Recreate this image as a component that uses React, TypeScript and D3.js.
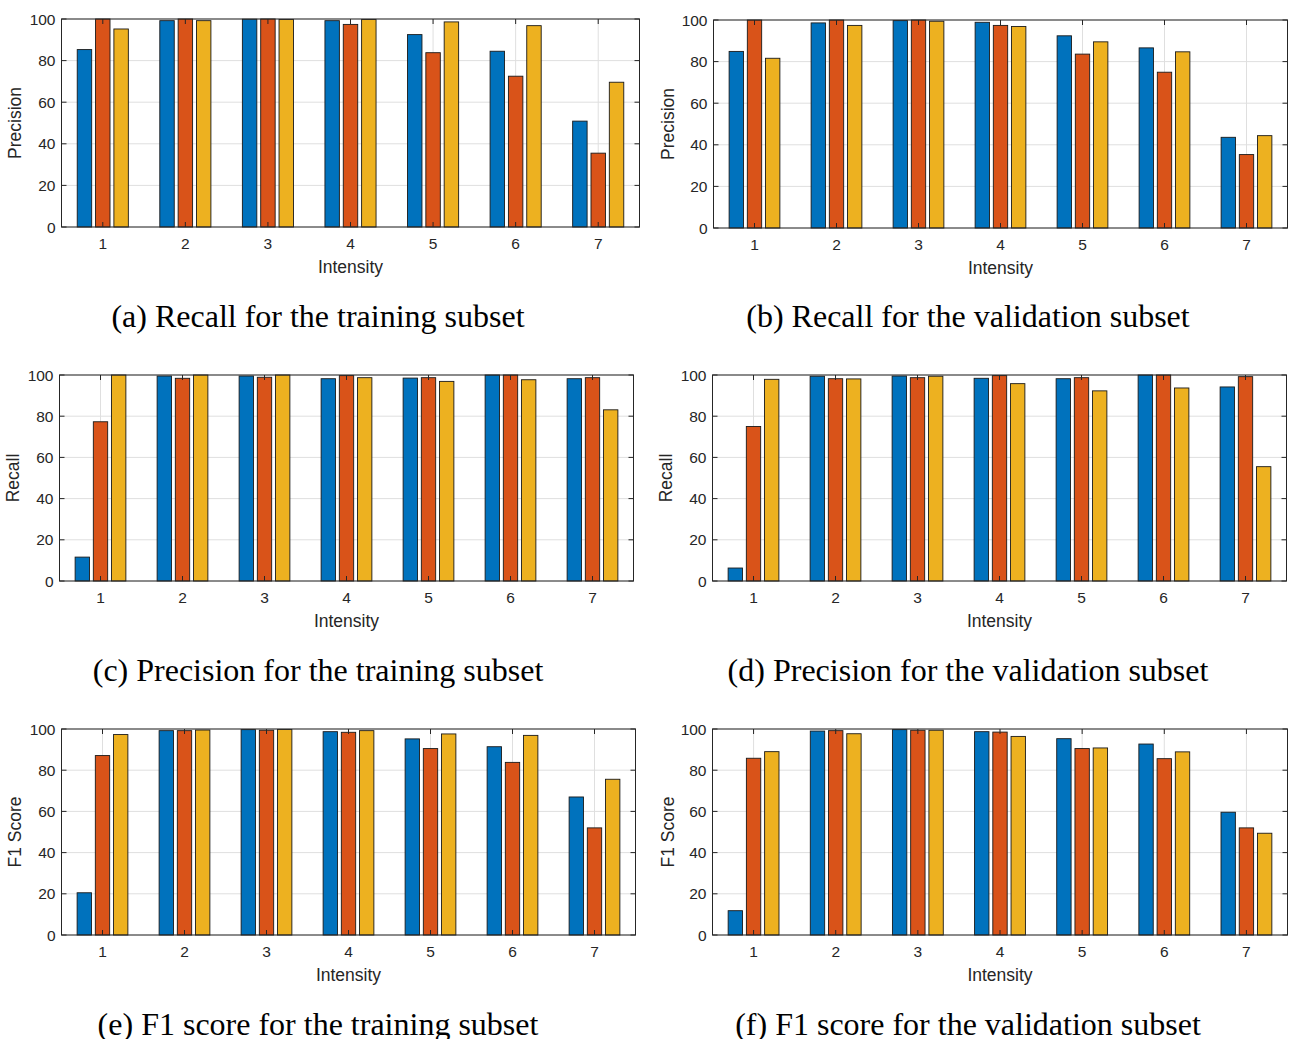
import React from "react";
import * as d3 from "d3";

// Intensity classes on the x axis
const categories = ["1", "2", "3", "4", "5", "6", "7"];
const yTicks = [0, 20, 40, 60, 80, 100];
const seriesColors = ["#0072BD", "#D95319", "#EDB120"];

// Three series per panel, one value per intensity class
const recallTrain = [
  [85.3, 99.2, 99.9, 99.2, 92.5, 84.5, 50.9],
  [100, 100, 100, 97.4, 83.8, 72.5, 35.5],
  [95.2, 99.2, 99.8, 99.8, 98.6, 96.8, 69.6],
];
const recallVal = [
  [84.9, 98.6, 99.7, 98.9, 92.4, 86.6, 43.6],
  [100, 100, 100, 97.4, 83.6, 74.9, 35.3],
  [81.6, 97.4, 99.4, 96.9, 89.5, 84.7, 44.4],
];
const precisionTrain = [
  [11.6, 99.5, 99.5, 98.2, 98.5, 100, 98.2],
  [77.3, 98.4, 98.9, 99.7, 98.7, 100, 98.7],
  [100, 100, 100, 98.7, 96.9, 97.7, 83.1],
];
const precisionVal = [
  [6.3, 99.4, 99.5, 98.4, 98.2, 100, 94.2],
  [75.0, 98.2, 98.7, 99.7, 98.7, 100, 99.2],
  [97.9, 98.1, 99.4, 95.8, 92.3, 93.7, 55.5],
];
const f1Train = [
  [20.5, 99.2, 99.7, 98.7, 95.2, 91.4, 67.0],
  [87.1, 99.2, 99.4, 98.4, 90.5, 83.8, 52.0],
  [97.3, 99.5, 99.8, 99.2, 97.6, 96.9, 75.6],
];
const f1Val = [
  [11.8, 99.0, 99.7, 98.7, 95.3, 92.7, 59.6],
  [85.8, 99.2, 99.4, 98.5, 90.5, 85.6, 52.0],
  [89.0, 97.7, 99.4, 96.4, 90.8, 88.9, 49.4],
];

type PanelSpec = {
  data: number[][];
  yLabel: string;
  caption: string;
  left: number;
  right: number;
  top: number;
  bottom: number;
  yLabelX: number;
  captionX: number;
  captionY: number;
};

const panels: PanelSpec[] = [
  { data: recallTrain, yLabel: "Precision", caption: "(a) Recall for the training subset",
    left: 61.5, right: 639.5, top: 19, bottom: 227, yLabelX: 15, captionX: 318, captionY: 327 },
  { data: recallVal, yLabel: "Precision", caption: "(b) Recall for the validation subset",
    left: 713.5, right: 1287.5, top: 20, bottom: 228, yLabelX: 668, captionX: 968, captionY: 327 },
  { data: precisionTrain, yLabel: "Recall", caption: "(c) Precision for the training subset",
    left: 59.5, right: 633.5, top: 375, bottom: 581, yLabelX: 13, captionX: 318, captionY: 681 },
  { data: precisionVal, yLabel: "Recall", caption: "(d) Precision for the validation subset",
    left: 712.5, right: 1286.5, top: 375, bottom: 581, yLabelX: 666, captionX: 968, captionY: 681 },
  { data: f1Train, yLabel: "F1 Score", caption: "(e) F1 score for the training subset",
    left: 61.5, right: 635.5, top: 729, bottom: 935, yLabelX: 15, captionX: 318, captionY: 1035 },
  { data: f1Val, yLabel: "F1 Score", caption: "(f) F1 score for the validation subset",
    left: 712.5, right: 1287.5, top: 729, bottom: 935, yLabelX: 668, captionX: 968, captionY: 1035 },
];

const axisColor = "#262626";
const gridColor = "#dfdfdf";
const sans = "Arial, 'Liberation Sans', Helvetica, sans-serif";
const serif = "'Times New Roman', 'Liberation Serif', serif";

function Panel({ p }: { p: PanelSpec }) {
  const x = d3
    .scaleLinear()
    .domain([0.5, categories.length + 0.5])
    .range([p.left, p.right]);
  const y = d3.scaleLinear().domain([0, 100]).range([p.bottom, p.top]);
  const unit = x(2) - x(1);
  const step = 0.222 * unit;
  const barW = 0.175 * unit;
  const tickLen = 5;
  const cx = (i: number) => x(i + 1);

  return (
    <g>
      {/* grid */}
      {yTicks.map((t) => (
        <line key={"gy" + t} x1={p.left} x2={p.right} y1={y(t)} y2={y(t)} stroke={gridColor} strokeWidth={1} />
      ))}
      {categories.map((c, i) => (
        <line key={"gx" + c} x1={cx(i)} x2={cx(i)} y1={p.top} y2={p.bottom} stroke={gridColor} strokeWidth={1} />
      ))}
      {/* bars */}
      {p.data.map((series, s) =>
        series.map((v, i) => {
          const xc = cx(i) + (s - 1) * step;
          return (
            <rect
              key={`b${s}-${i}`}
              x={xc - barW / 2}
              y={y(v)}
              width={barW}
              height={y(0) - y(v)}
              fill={seriesColors[s]}
              stroke="#1a1a1a"
              strokeWidth={0.9}
            />
          );
        })
      )}
      {/* box and ticks */}
      <rect x={p.left} y={p.top} width={p.right - p.left} height={p.bottom - p.top} fill="none" stroke={axisColor} strokeWidth={1} />
      {yTicks.map((t) => (
        <g key={"ty" + t}>
          <line x1={p.left} x2={p.left + tickLen} y1={y(t)} y2={y(t)} stroke={axisColor} />
          <line x1={p.right} x2={p.right - tickLen} y1={y(t)} y2={y(t)} stroke={axisColor} />
          <text x={p.left - 6} y={y(t)} dy="0.36em" textAnchor="end" fontFamily={sans} fontSize={15.5} fill={axisColor}>
            {t}
          </text>
        </g>
      ))}
      {categories.map((c, i) => (
        <g key={"tx" + c}>
          <line x1={cx(i)} x2={cx(i)} y1={p.bottom} y2={p.bottom - tickLen} stroke={axisColor} />
          <line x1={cx(i)} x2={cx(i)} y1={p.top} y2={p.top + tickLen} stroke={axisColor} />
          <text x={cx(i)} y={p.bottom + 16} dy="0.36em" textAnchor="middle" fontFamily={sans} fontSize={15.5} fill={axisColor}>
            {c}
          </text>
        </g>
      ))}
      <text
        x={(p.left + p.right) / 2}
        y={p.bottom + 40}
        dy="0.36em"
        textAnchor="middle"
        fontFamily={sans}
        fontSize={17.5}
        fill={axisColor}
      >
        Intensity
      </text>
      <text
        transform={`translate(${p.yLabelX},${(p.top + p.bottom) / 2}) rotate(-90)`}
        dy="0.36em"
        textAnchor="middle"
        fontFamily={sans}
        fontSize={17.5}
        fill={axisColor}
      >
        {p.yLabel}
      </text>
      <text x={p.captionX} y={p.captionY} textAnchor="middle" fontFamily={serif} fontSize={32} fill="#000">
        {p.caption}
      </text>
    </g>
  );
}

export default function App() {
  return (
    <svg
      width={1293}
      height={1039}
      style={{ position: "absolute", left: 0, top: 0, background: "#fff" }}
    >
      <rect width={1293} height={1039} fill="#fff" />
      {panels.map((p, k) => (
        <Panel key={k} p={p} />
      ))}
    </svg>
  );
}
